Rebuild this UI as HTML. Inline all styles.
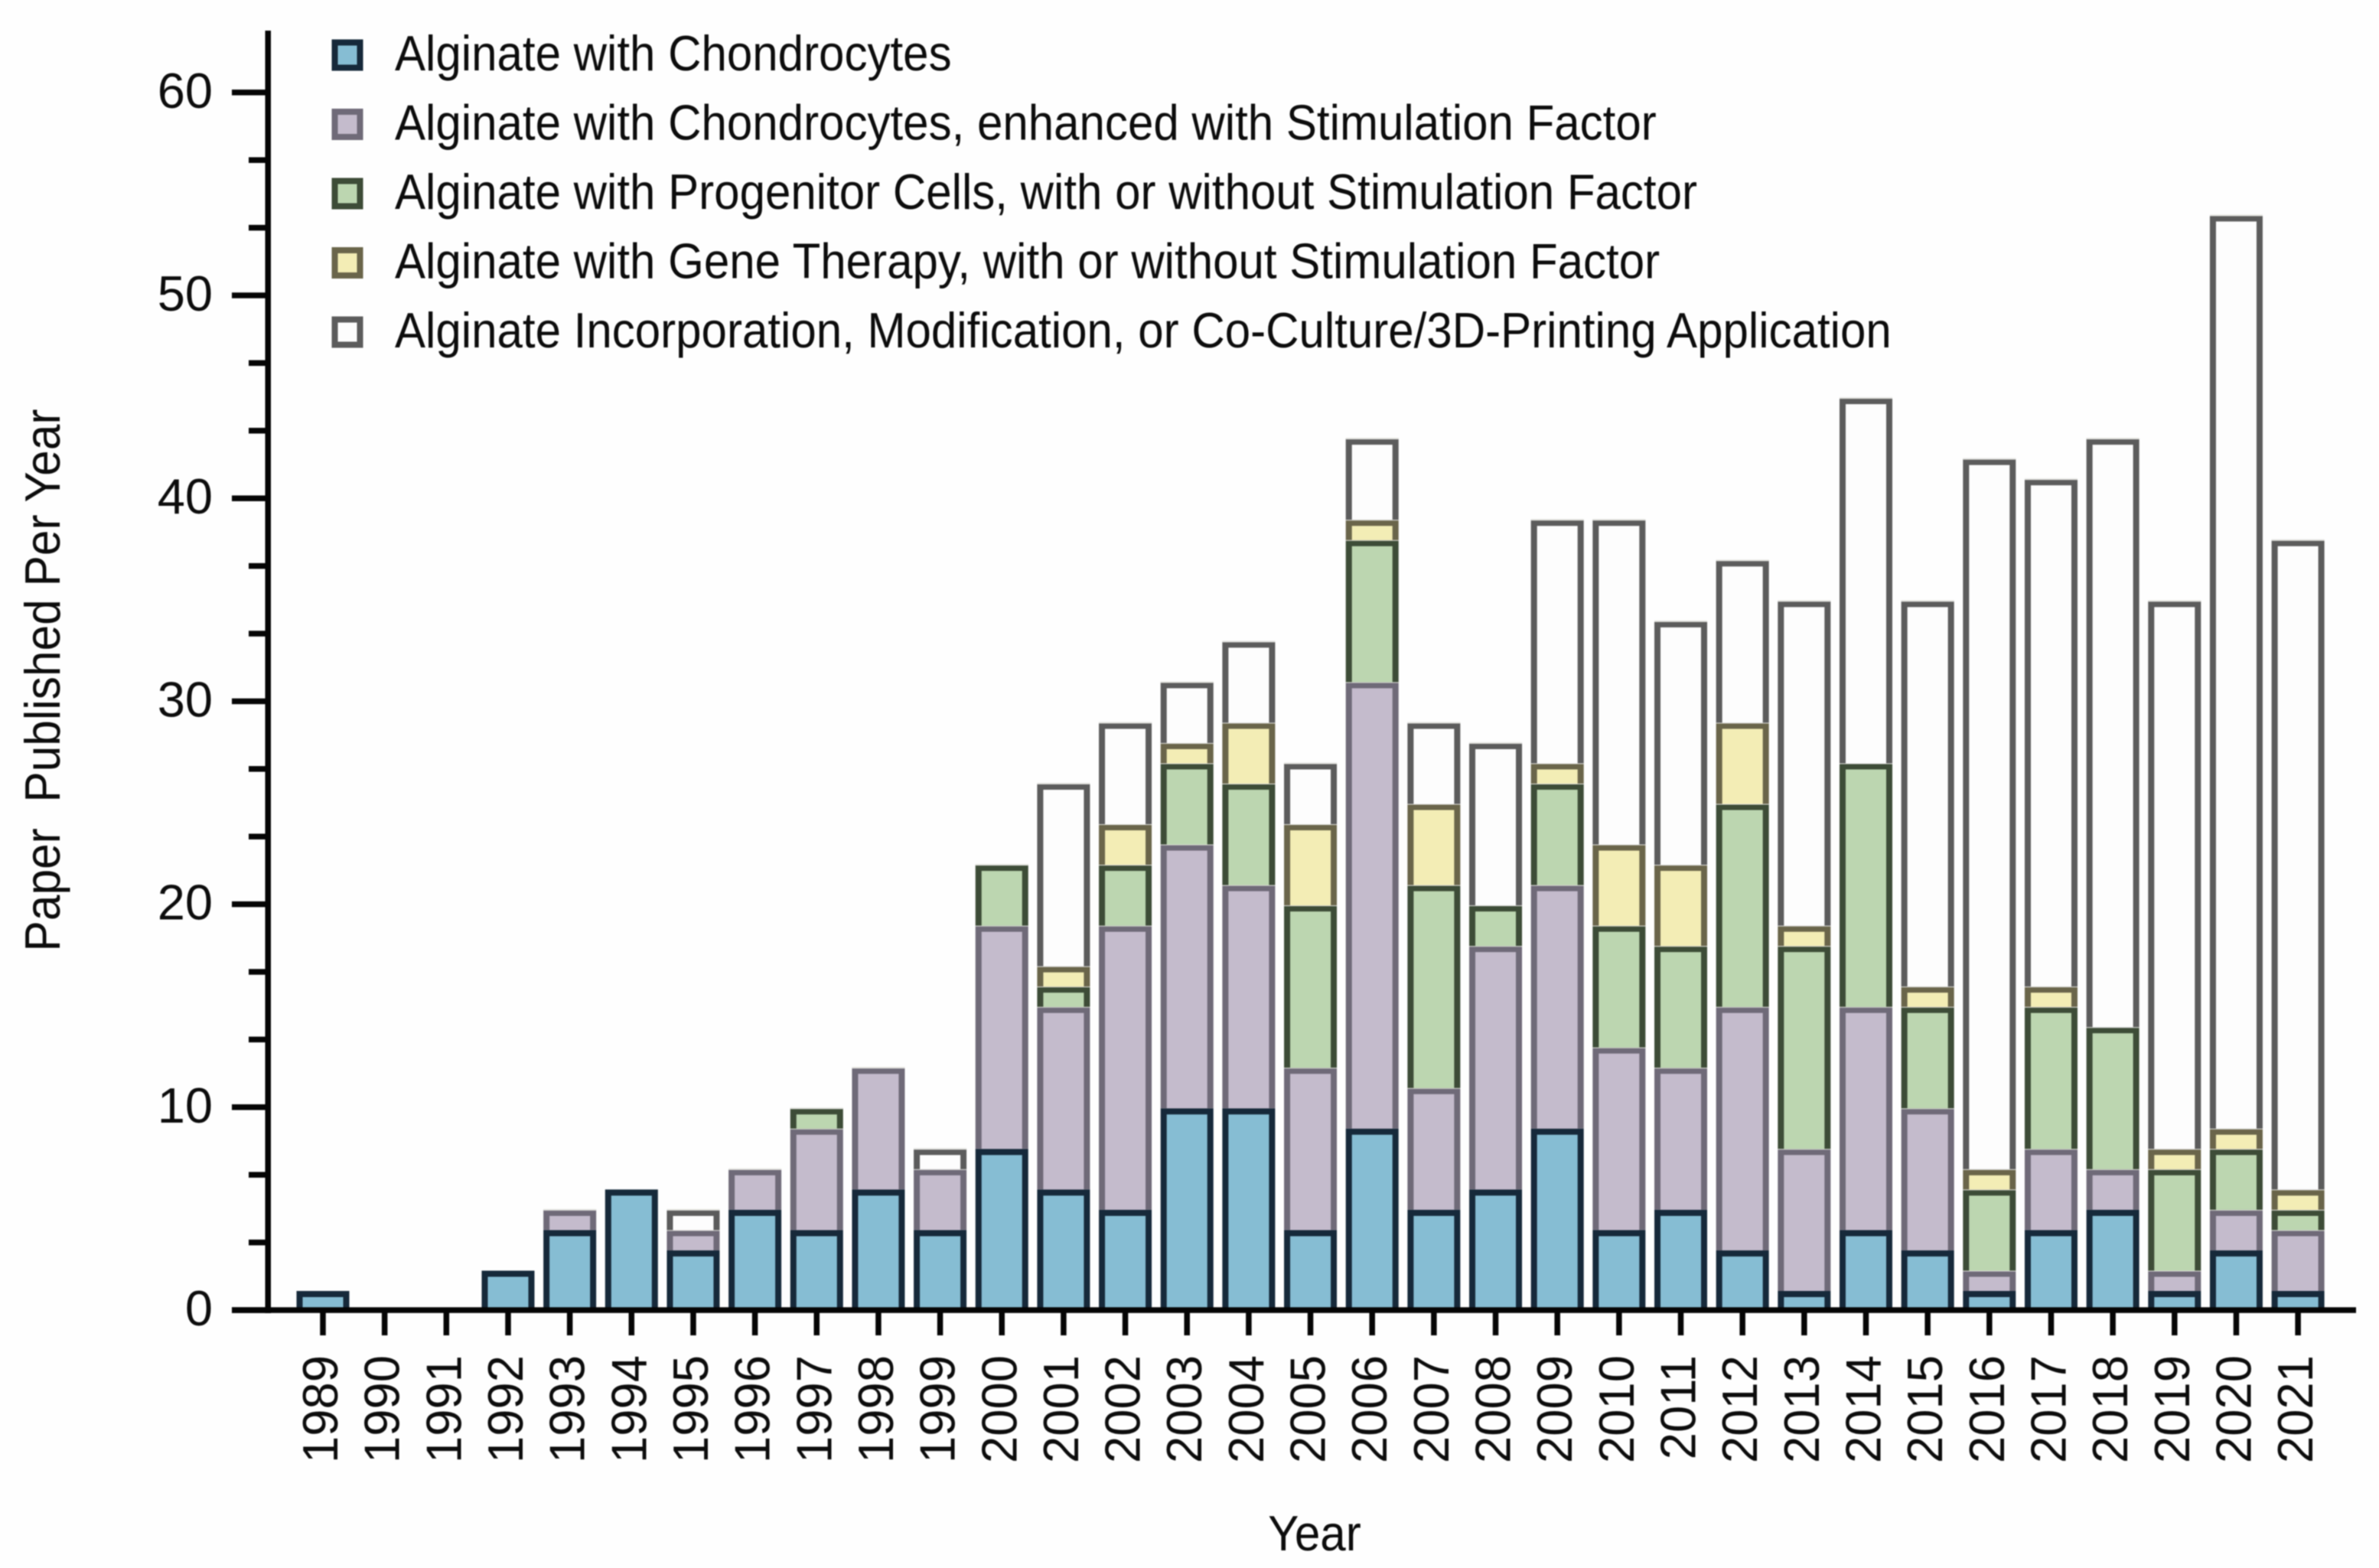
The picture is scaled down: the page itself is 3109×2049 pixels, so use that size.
<!DOCTYPE html>
<html lang="en">
<head>
<meta charset="utf-8">
<title>Alginate papers published per year</title>
<style>
html,body{margin:0;padding:0;background:#fefefe;}
svg{display:block;font-family:"Liberation Sans",Arial,sans-serif;filter:blur(0.8px);}
text{fill:#0c0c0c;font-size:65px;}
</style>
</head>
<body>
<svg id="chart" xmlns="http://www.w3.org/2000/svg" width="3109" height="2049" viewBox="0 0 3109 2049"></svg>
<script>
const years = [1989,1990,1991,1992,1993,1994,1995,1996,1997,1998,1999,2000,2001,2002,2003,2004,2005,2006,2007,2008,2009,2010,2011,2012,2013,2014,2015,2016,2017,2018,2019,2020,2021];
const chondrocytes = [1,0,0,2,4,6,3,5,4,6,4,8,6,5,10,10,4,9,5,6,9,4,5,3,1,4,3,1,4,5,1,3,1];
const stimulated = [0,0,0,0,1,0,1,2,5,6,3,11,9,14,13,11,8,22,6,12,12,9,7,12,7,11,7,1,4,2,1,2,3];
const progenitor = [0,0,0,0,0,0,0,0,1,0,0,3,1,3,4,5,8,7,10,2,5,6,6,10,10,12,5,4,7,7,5,3,1];
const geneTherapy = [0,0,0,0,0,0,0,0,0,0,0,0,1,2,1,3,4,1,4,0,1,4,4,4,1,0,1,1,1,0,1,1,1];
const incorporation = [0,0,0,0,0,0,1,0,0,0,1,0,9,5,3,4,3,4,4,8,12,16,12,8,16,18,19,35,25,29,27,45,32];
const yMajorTicks = [0,10,20,30,40,50,60];
const seriesNames = ["Alginate with Chondrocytes","Alginate with Chondrocytes, enhanced with Stimulation Factor","Alginate with Progenitor Cells, with or without Stimulation Factor","Alginate with Gene Therapy, with or without Stimulation Factor","Alginate Incorporation, Modification, or Co-Culture/3D-Printing Application"];
const seriesKeys = ["chondrocytes","stimulated","progenitor","gene-therapy","incorporation"];
const seriesValues = [chondrocytes,stimulated,progenitor,geneTherapy,incorporation];
const fillColors = ["#86bdd3","#c4bbcc","#bcd6b0","#f3edb5","#fdfdfd"];
const strokeColors = ["#16293a","#6f6a78","#3d4c37","#6a654a","#5c5c5c"];

const NS = "http://www.w3.org/2000/svg";
const svg = document.getElementById("chart");
const y0 = 1712, unit = 26.52, barBase = 1713.5;
const x0 = 422, step = 80.66;
const barW = 69, sw = 8;
const yScale = v => y0 - v * unit;
const barY = v => barBase - v * unit;
const xScale = i => x0 + i * step;

function mk(tag, attrs, parent) {
  const el = document.createElementNS(NS, tag);
  for (const k in attrs) el.setAttribute(k, attrs[k]);
  (parent || svg).appendChild(el);
  return el;
}

// bars
const barsGroup = mk("g", {});


years.forEach((yr, i) => {
  let cum = 0;
  const cx = xScale(i);
  seriesValues.forEach((vals, s) => {
    const v = vals[i];
    if (!v) return;
    const top = barY(cum + v), bot = barY(cum);
    const g = mk("g", {}, barsGroup);
    
    
    mk("rect", {x: cx - barW/2, y: top, width: barW, height: bot - top, fill: strokeColors[s]}, g);
    mk("rect", {x: cx - barW/2 + sw, y: top + sw, width: barW - 2*sw, height: Math.max(0, bot - top - sw), fill: fillColors[s]}, g);
    if (cum > 0) mk("rect", {x: cx - barW/2, y: top - 1, width: barW, height: 2, fill: "#e4e4e0"}, g);
    cum += v;
  });
});

// y axis
const yAxisLine = mk("rect", {x: 346.5, y: 40, width: 7.5, height: y0 - 36, fill: "#050505"});


yMajorTicks.forEach((t, idx) => {
  const y = yScale(t);
  const tick = mk("rect", {x: 303, y: y - 3.75, width: 45, height: 7.5, fill: "#050505"});
  
  
  const lab = mk("text", {x: 278, y: y + 20, "text-anchor": "end"});
  lab.textContent = t;
  
  
  if (idx < yMajorTicks.length - 1) {
    const next = yMajorTicks[idx + 1];
    [1, 2].forEach(k => {
      const v = t + (next - t) * k / 3;
      const m = mk("rect", {x: 325, y: yScale(v) - 3.75, width: 23, height: 7.5, fill: "#050505"});
      
      
    });
  }
});

// x axis
const xAxisLine = mk("rect", {x: 303, y: y0 - 3.75, width: 2776, height: 7.5, fill: "#050505"});


years.forEach((yr, i) => {
  const cx = xScale(i);
  const t = mk("rect", {x: cx - 3.75, y: y0, width: 7.5, height: 33, fill: "#050505"});
  
  
  const lab = mk("text", {transform: "translate(" + (cx + 19) + ",1771) rotate(-90) scale(0.975,1)", "text-anchor": "end"});
  lab.textContent = yr;
  
  
});

// axis titles
const yTitle = mk("text", {transform: "translate(78,889) rotate(-90) scale(0.93,1)", "text-anchor": "middle", style: "white-space:pre"});
yTitle.textContent = "Paper  Published Per Year";


const xTitle = mk("text", {transform: "translate(1718,2026) scale(0.925,1)", "text-anchor": "middle"});
xTitle.textContent = "Year";



// legend
const legendRowStep = 90.5;
seriesNames.forEach((name, s) => {
  const base = 92 + s * legendRowStep;
  const g = mk("g", {});
  
  
  const sw1 = mk("rect", {x: 437.5, y: base - 36.5, width: 33, height: 33, fill: fillColors[s], stroke: strokeColors[s], "stroke-width": 8}, g);
  
  
  const txt = mk("text", {transform: "translate(516," + base + ") scale(0.924,1)"}, g);
  txt.textContent = name;
  
  
});
</script>
</body>
</html>
